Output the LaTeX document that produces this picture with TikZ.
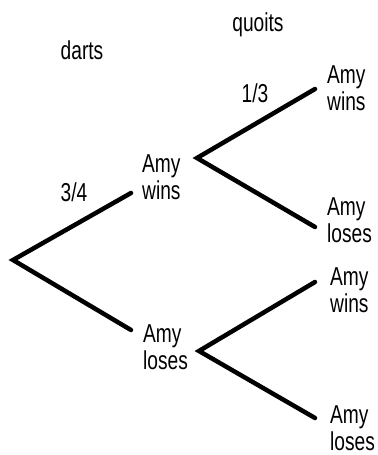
\documentclass[tikz,border=0pt]{standalone}
\usepackage{fontspec}
\setmainfont{Liberation Sans}
\newcommand\sqz[1]{\scalebox{0.74}[1]{#1}}
\begin{document}
\begin{tikzpicture}[x=1bp,y=-1bp,
  lbl/.style={inner sep=0pt, font=\fontsize{26}{27}\selectfont, align=left},
  leaf/.style={lbl, anchor=west},
  branch/.style={line width=4.5bp, line cap=round, line join=miter}]
\useasboundingbox (0,0) rectangle (377,455);
% headings and probabilities
\node[lbl] (darts) at (82,50) {\sqz{darts}};
\node[lbl] (quoits) at (258,25) {\sqz{quoits}};
\node[lbl] (p13) at (255,93) {\sqz{1/3}};
\node[lbl] (p34) at (74,192) {\sqz{3/4}};
% outcome labels
\node[leaf] (mw) at (142,177) {\sqz{Amy}\\\sqz{wins}};
\node[leaf] (ml) at (143,347) {\sqz{Amy}\\\sqz{loses}};
\node[leaf] (ww) at (327,88) {\sqz{Amy}\\\sqz{wins}};
\node[leaf] (wl) at (327,220) {\sqz{Amy}\\\sqz{loses}};
\node[leaf] (lw) at (330,290) {\sqz{Amy}\\\sqz{wins}};
\node[leaf] (ll) at (330,428) {\sqz{Amy}\\\sqz{loses}};
% branch points
\coordinate (root) at (13,260);
\coordinate (e1) at (131,193);
\coordinate (e2) at (131,330);
\coordinate (v1) at (197,158);
\coordinate (v2) at (199,351);
\coordinate (t1) at (315,89);
\coordinate (t2) at (315,227);
\coordinate (t3) at (315,282);
\coordinate (t4) at (315,418);
\draw[branch] (e1) -- (root) -- (e2);
\draw[branch] (t1) -- (v1) -- (t2);
\draw[branch] (t3) -- (v2) -- (t4);
\end{tikzpicture}
\end{document}
